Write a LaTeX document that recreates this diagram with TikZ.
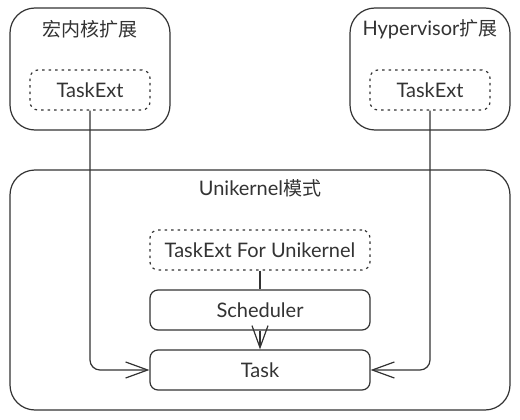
\documentclass[tikz,border=0pt]{standalone}
\usepackage{fontspec}
\setmainfont{Lato}
\newfontfamily\cjk{Noto Sans CJK SC}
\usetikzlibrary{arrows.meta}
\definecolor{ink}{HTML}{333333}
\begin{document}
\begin{tikzpicture}[x=1pt,y=-1pt,
  outerbox/.style={draw=ink,line width=1.2pt,rounded corners=25pt},
  innerbox/.style={draw=ink,line width=1.2pt,rounded corners=8pt,minimum width=220pt,minimum height=40pt,font=\fontsize{20}{24}\selectfont,text=ink},
  extbox/.style={draw=ink,line width=1.2pt,rounded corners=8pt,dash pattern=on 2.5pt off 4pt,minimum height=40pt,font=\fontsize{20}{24}\selectfont,text=ink},
  title/.style={font=\fontsize{20}{24}\selectfont,text=ink},
  conn/.style={draw=ink,line width=1.2pt,rounded corners=10pt},
  openarrow/.style={-{Straight Barb[length=22pt,width=16pt,line width=1.2pt]}}
]
\useasboundingbox (0,0) rectangle (520,420);
\fill[white] (0,0) rectangle (520,420);
% top boxes
\draw[outerbox] (10,8) rectangle (170,130);
\node[title] (t1) at (90,29) {\cjk\fontsize{19}{24}\selectfont 宏内核扩展};
\node[extbox,minimum width=120pt] (ext1) at (90,90) {TaskExt};
\draw[outerbox] (350,8) rectangle (510,130);
\node[title] (t2) at (430,29) {Hypervisor{\cjk\fontsize{19}{24}\selectfont 扩展}};
\node[extbox,minimum width=120pt] (ext2) at (430,90) {TaskExt};
% main box
\draw[outerbox] (10,170) rectangle (510,410);
\node[title] (t3) at (260,188) {Unikernel{\cjk\fontsize{19}{24}\selectfont 模式}};
\node[extbox,minimum width=220pt] (extu) at (260,250) {TaskExt For Unikernel};
\node[innerbox] (sched) at (260,310) {Scheduler};
\node[innerbox] (task) at (260,370) {Task};
% connectors
\draw[conn] (extu) -- (sched);
\draw[conn,openarrow] (sched) -- (task);
\draw[conn,openarrow] (ext1.south) |- (task.west);
\draw[conn,openarrow] (ext2.south) |- (task.east);
\end{tikzpicture}
\end{document}
